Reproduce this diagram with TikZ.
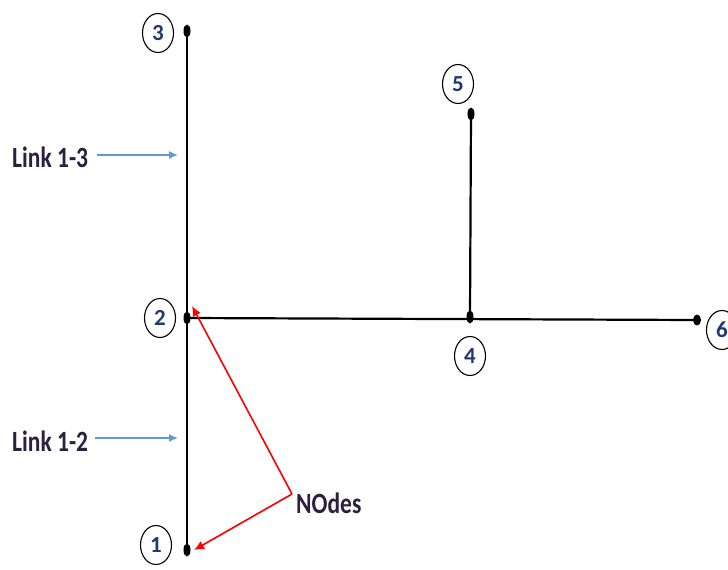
\documentclass[tikz,border=0pt]{standalone}
\usepackage{fontspec}
\usepackage{graphicx}
\setmainfont{Carlito}
\usetikzlibrary{shapes.geometric,arrows.meta}
\definecolor{linkblue}{HTML}{5B9BD5}
\definecolor{txtcol}{HTML}{2A2040}
\definecolor{digcol}{HTML}{1F3A70}
\newcommand{\tallt}[1]{\scalebox{1}[1.25]{#1}}
\begin{document}
\begin{tikzpicture}[x=1pt,y=-1pt,
  lbl/.style={ellipse,draw,line width=1.1pt,minimum width=31pt,minimum height=39pt,inner sep=0pt,text=digcol,font=\fontsize{23}{25}\selectfont\bfseries},
  dot/.style={ellipse,fill=black,minimum width=7pt,minimum height=13pt,inner sep=0pt},
  edge/.style={line width=2.2pt},
  blu/.style={linkblue,line width=1.5pt,-{Latex[length=9pt,width=8pt]}},
  redarr/.style={red,line width=1.6pt,-{Latex[length=10pt,width=9pt]}},
  txt/.style={text=txtcol,inner sep=0pt,font=\fontsize{23.5}{26}\selectfont\bfseries}]
\useasboundingbox (0,0) rectangle (728,570);
% dots
\node[dot] (n3) at (187,31) {};
\node[dot] (n2) at (187,318) {};
\node[dot] (n1) at (187,550) {};
\node[dot] (n4) at (470,317) {};
\node[dot] (n5) at (471,114) {};
\node[dot,minimum width=8pt,minimum height=11pt] (n6) at (697,320) {};
% edges
\draw[edge] (n3.center) -- (n1.center);
\draw[edge] (n2.center) -- (n6.center);
\draw[edge] (n5.center) -- (n4.center);
% labels
\node[lbl] (l3) at (158,33) {3};
\node[lbl] (l2) at (160,318) {2};
\node[lbl] (l1) at (156,545) {1};
\node[lbl] (l4) at (470,356) {4};
\node[lbl] (l5) at (458,84) {5};
\node[lbl] (l6) at (722,330) {6};
% link annotations
\node[txt,anchor=west] (t13) at (12,157) {\tallt{Link 1-3}};
\coordinate (a13) at (178,155);
\draw[blu] (t13.east) ++(9,-2) -- (a13);
\node[txt,anchor=west] (t12) at (12,441) {\tallt{Link 1-2}};
\coordinate (a12) at (178,438);
\draw[blu] (t12.east) ++(7,-3) -- (a12);
% NOdes
\node[txt,anchor=west] (nd) at (296,503) {\tallt{NOdes}};
\coordinate (v) at (292,494);
\coordinate (h2) at (192,306);
\coordinate (h1) at (194,550);
\draw[redarr] (v) -- (h2);
\draw[redarr] (v) -- (h1);
\end{tikzpicture}
\end{document}
